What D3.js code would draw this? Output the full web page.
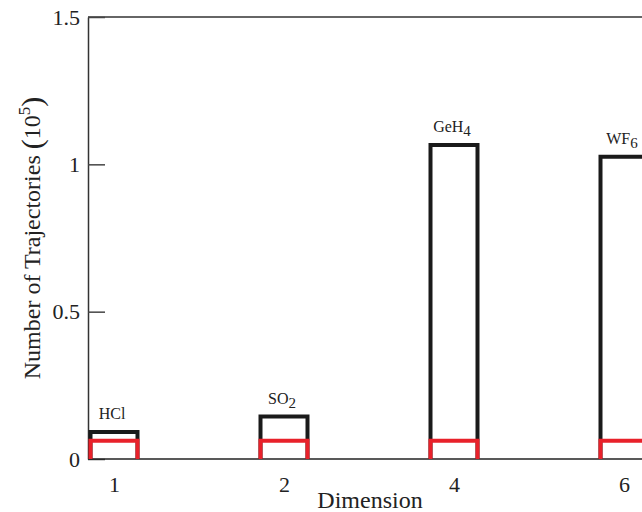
<!DOCTYPE html>
<html>
<head>
<meta charset="utf-8">
<script src="https://cdn.jsdelivr.net/npm/d3@7"></script>
<style>
  body { margin: 0; background: #fff; }
  svg { display: block; font-family: "Liberation Serif", "Times New Roman", serif; }
</style>
</head>
<body>
<svg id="chart" width="642" height="512"></svg>
<script>
// data
const dims = ["1", "2", "4", "6"];
const molecules = [["HCl", ""], ["SO", "2"], ["GeH", "4"], ["WF", "6"]];
const totalTraj = [0.092, 0.144, 1.066, 1.026];   // black outline, x 10^5
const keptTraj = [0.062, 0.062, 0.062, 0.062];    // red outline, x 10^5
const yTicks = [0, 0.5, 1, 1.5];

const margin = {top: 17, left: 88, bottom: 53};
const width = 700 - margin.left, height = 512 - margin.top - margin.bottom;
const barW = 47;

const svg = d3.select("#chart");
const g = svg.append("g")
    .attr("transform", `translate(${margin.left},${margin.top})`);

// categories are evenly spaced, not on a linear scale
const x = d3.scalePoint()
    .domain(dims)
    .range([26, 26 + 170 * 3]);

const y = d3.scaleLinear()
    .domain([0, 1.5])
    .range([height, 0]);

// frame: top line
g.append("line")
    .attr("x1", 0).attr("x2", width)
    .attr("y1", 0).attr("y2", 0)
    .attr("stroke", "#333").attr("stroke-width", 1.5);

// y axis, inward ticks
const yAxis = g.append("g")
    .call(d3.axisLeft(y)
        .tickValues(yTicks)
        .tickFormat(d => d)
        .tickSizeInner(-17)
        .tickSizeOuter(0)
        .tickPadding(8));
yAxis.select(".domain").attr("stroke", "#333").attr("stroke-width", 1.5);
yAxis.selectAll(".tick line").attr("stroke", "#444").attr("stroke-width", 1.5);
yAxis.selectAll("text")
    .attr("font-family", "Liberation Serif, serif")
    .attr("font-size", 22)
    .attr("fill", "#222");

// x axis, labels only
const xAxis = g.append("g")
    .attr("transform", `translate(0,${height})`)
    .call(d3.axisBottom(x).tickSize(0).tickPadding(17));
xAxis.select(".domain")
    .attr("d", `M0,0H${width}`)
    .attr("stroke", "#222").attr("stroke-width", 1.5);
xAxis.selectAll("text")
    .attr("font-family", "Liberation Serif, serif")
    .attr("font-size", 22)
    .attr("fill", "#222");

// open-bottom bar outline
function barPath(cx, v) {
    const l = cx - barW / 2, r = cx + barW / 2;
    return `M${l},${y(0)}V${y(v)}H${r}V${y(0)}`;
}

g.append("g").selectAll("path")
    .data(dims)
    .join("path")
    .attr("d", (d, i) => barPath(x(d), totalTraj[i]))
    .attr("fill", "none")
    .attr("stroke", "#1a1a1a")
    .attr("stroke-width", 4);

g.append("g").selectAll("path")
    .data(dims)
    .join("path")
    .attr("d", (d, i) => barPath(x(d), keptTraj[i]))
    .attr("fill", "none")
    .attr("stroke", "#e8212a")
    .attr("stroke-width", 4);

// molecule labels
const lbl = g.append("g").selectAll("text")
    .data(dims)
    .join("text")
    .attr("x", d => x(d) - 2)
    .attr("y", (d, i) => y(totalTraj[i]) - 13)
    .attr("text-anchor", "middle")
    .attr("font-size", 16)
    .attr("fill", "#222");
lbl.append("tspan").text((d, i) => molecules[i][0]);
lbl.append("tspan")
    .attr("dy", 4)
    .attr("font-size", 15)
    .text((d, i) => molecules[i][1]);

// axis titles
svg.append("text")
    .attr("x", 370)
    .attr("y", 508)
    .attr("text-anchor", "middle")
    .attr("font-size", 24)
    .attr("fill", "#222")
    .text("Dimension");

const yt = svg.append("text")
    .attr("transform", "translate(40,238) rotate(-90)")
    .attr("text-anchor", "middle")
    .attr("font-size", 24)
    .attr("fill", "#222");
yt.append("tspan").text("Number of Trajectories ");
yt.append("tspan").attr("font-size", 30).attr("dy", 2).text("(");
yt.append("tspan").attr("dy", -2).text("10");
yt.append("tspan").attr("dy", -10).attr("font-size", 17).text("5");
yt.append("tspan").attr("dy", 12).attr("font-size", 30).text(")");
</script>
</body>
</html>
